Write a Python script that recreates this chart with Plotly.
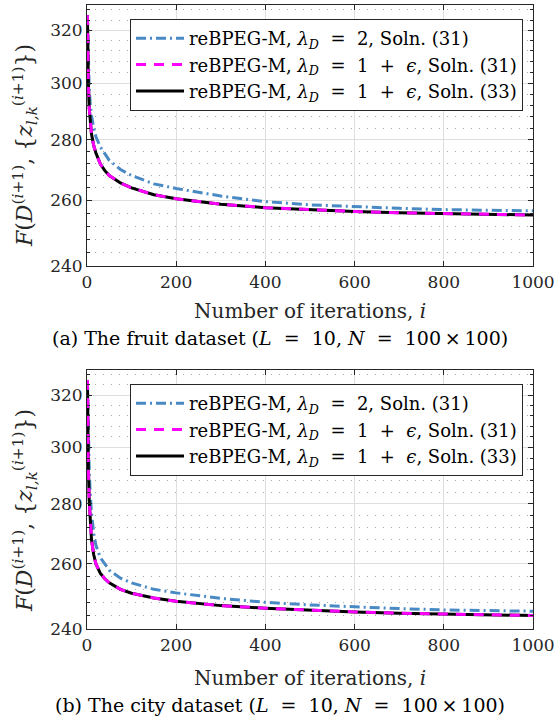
import math
import plotly.graph_objects as go

W, H = 555, 727

# ---------------- data ----------------
iters = [1, 2, 3, 5, 7, 10, 15, 20, 30, 40, 50, 75, 100, 150, 200, 300, 400, 500, 600, 700, 800, 900, 1000]

fruit_blue  = [326, 315, 307, 298, 293, 288.5, 284, 281, 277.5, 275, 273, 270, 268, 265.3, 263.8, 261.4, 259.6, 258.6, 258.0, 257.5, 257.1, 256.9, 256.7]
fruit_mag   = [326, 310, 300, 291, 286, 282, 278, 275.5, 271.8, 269.6, 268, 265.6, 264, 261.8, 260.5, 258.8, 257.7, 257.0, 256.5, 256.1, 255.8, 255.6, 255.4]
fruit_black = [326, 310, 300, 291, 286, 282, 278, 275.5, 271.8, 269.6, 268, 265.6, 264, 261.8, 260.5, 258.8, 257.7, 257.0, 256.5, 256.1, 255.8, 255.6, 255.4]

city_blue   = [326, 312, 303, 292, 284, 277, 270, 266, 262, 259.8, 258, 255.5, 254, 252, 250.9, 249.2, 248.0, 247.2, 246.6, 246.1, 245.7, 245.5, 245.3]
city_mag    = [326, 305, 293, 281, 274, 268, 263, 260, 257, 255.3, 254, 252, 250.8, 249.3, 248.3, 247.0, 246.2, 245.6, 245.1, 244.7, 244.4, 244.2, 244.0]
city_black  = [326, 305, 293, 281, 274, 268, 263, 260, 257, 255.3, 254, 252, 250.8, 249.3, 248.3, 247.0, 246.2, 245.6, 245.1, 244.7, 244.4, 244.2, 244.0]

x_ticks = [0, 200, 400, 600, 800, 1000]
y_ticks = [240, 260, 280, 300, 320]
y_minor = [244, 248, 252, 256, 264, 268, 272, 276, 284, 288, 292, 296, 304, 308, 312, 316, 324, 328]

NB = "\u00a0"
names = [f"reBPEG-M, <i>λ<sub>D</sub></i>{NB} ={NB} 2, Soln. (31)",
         f"reBPEG-M, <i>λ<sub>D</sub></i>{NB} ={NB} 1{NB} +{NB} <i>ϵ</i>, Soln. (31)",
         f"reBPEG-M, <i>λ<sub>D</sub></i>{NB} ={NB} 1{NB} +{NB} <i>ϵ</i>, Soln. (33)"]
captions = [f"(a) The fruit dataset (<i>L</i>{NB} ={NB} 10, <i>N</i>{NB} ={NB} 100\u2009×\u2009100)",
            f"(b) The city dataset (<i>L</i>{NB} ={NB} 10, <i>N</i>{NB} ={NB} 100\u2009×\u2009100)"]
x_title = "Number of iterations, <i>i</i>"
y_title = "<i>F</i>(<i>D</i><sup>(<i>i</i>+1)</sup>, {<i>z</i><sub><i>l,k</i></sub><sup>(<i>i</i>+1)</sup>})"

# ---------------- styling ----------------
FONT = "DejaVu Serif"
AX = "#262626"
BLUE = "#4a8ac4"
MAG = "#ff00ff"

L_PX, R_PX = 87, 533
panels = [(5, 266), (370, 629)]
xtitle_y = [311, 678]
caption_y = [338, 705]
ytitle_y = [146, 511]


def px_x(x):
    return x / W


def px_y(y):
    return 1 - y / H


fig = go.Figure()

series = [(fruit_blue, fruit_mag, fruit_black), (city_blue, city_mag, city_black)]
for k, (b, m, bl) in enumerate(series):
    xa = "x" if k == 0 else "x2"
    ya = "y" if k == 0 else "y2"
    lg = "legend" if k == 0 else "legend2"
    fig.add_trace(go.Scatter(x=iters, y=b, mode="lines", name=names[0], legend=lg, legendrank=1,
                             line=dict(color=BLUE, width=3, dash="10px,4px,2px,4px"), xaxis=xa, yaxis=ya))
    fig.add_trace(go.Scatter(x=iters, y=bl, mode="lines", name=names[2], legend=lg, legendrank=3,
                             line=dict(color="black", width=3), xaxis=xa, yaxis=ya))
    fig.add_trace(go.Scatter(x=iters, y=m, mode="lines", name=names[1], legend=lg, legendrank=2,
                             line=dict(color=MAG, width=3, dash="10px,8px"), xaxis=xa, yaxis=ya))


def xaxis_cfg(anchor):
    return dict(domain=[px_x(L_PX), px_x(R_PX)], anchor=anchor, range=[0, 1000],
                tickvals=x_ticks, ticktext=[str(v) for v in x_ticks],
                showline=True, linecolor=AX, linewidth=1, mirror="ticks",
                ticks="inside", ticklen=5, tickcolor=AX, automargin=False,
                showgrid=True, gridcolor="#dedede", gridwidth=1, zeroline=False,
                ticklabelstandoff=1,
                tickfont=dict(family=FONT, size=17, color=AX))


def yaxis_cfg(anchor, top, bot):
    return dict(domain=[px_y(bot), px_y(top)], anchor=anchor, type="log",
                range=[math.log10(240), math.log10(330)],
                tickvals=y_ticks, ticktext=[str(v) for v in y_ticks],
                showline=True, linecolor=AX, linewidth=1, mirror="ticks",
                ticks="inside", ticklen=5, tickcolor=AX, automargin=False,
                showgrid=True, gridcolor="#dedede", gridwidth=1, zeroline=False,
                minor=dict(tickmode="array", tickvals=y_minor, ticks="inside", ticklen=3,
                           tickcolor=AX, showgrid=True, gridcolor="#a8a8a8",
                           griddash="1px,7px", gridwidth=1),
                tickfont=dict(family=FONT, size=17, color=AX))


fig.update_layout(
    width=W, height=H, autosize=False, margin=dict(l=0, r=0, t=0, b=0, autoexpand=False),
    paper_bgcolor="white", plot_bgcolor="white",
    xaxis=xaxis_cfg("y"), yaxis=yaxis_cfg("x", *panels[0]),
    xaxis2=xaxis_cfg("y2"), yaxis2=yaxis_cfg("x2", *panels[1]),
    font=dict(family=FONT, size=18, color=AX),
)

for k, (top, bot) in enumerate(panels):
    leg = dict(x=px_x(130), y=px_y(top + 14), xanchor="left", yanchor="top",
               xref="paper", yref="paper",
               bgcolor="white", bordercolor=AX, borderwidth=1,
               font=dict(family=FONT, size=18, color="black"),
               traceorder="normal", itemwidth=48)
    fig.update_layout({("legend" if k == 0 else "legend2"): leg})
    fig.add_annotation(text=x_title, x=px_x((L_PX + R_PX) / 2), y=px_y(xtitle_y[k]),
                       xref="paper", yref="paper", showarrow=False,
                       font=dict(family=FONT, size=20, color=AX), xanchor="center", yanchor="middle")
    fig.add_annotation(text=captions[k], x=px_x(280), y=px_y(caption_y[k]),
                       xref="paper", yref="paper", showarrow=False,
                       font=dict(family=FONT, size=19, color="black"), xanchor="center", yanchor="middle")
    fig.add_annotation(text=y_title, x=px_x(25), y=px_y(ytitle_y[k]),
                       xref="paper", yref="paper", showarrow=False, textangle=-90,
                       font=dict(family=FONT, size=22, color=AX), xanchor="center", yanchor="middle")

fig.write_html("out.html", config={"displayModeBar": False},
               post_script="document.body.style.margin='0px';")
